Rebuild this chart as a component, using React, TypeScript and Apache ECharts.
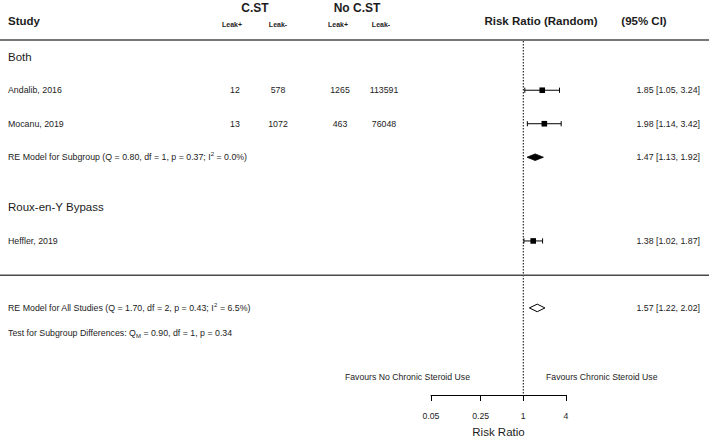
import React, { useEffect, useRef } from 'react';
import * as echarts from 'echarts';

// ---------- data ----------
const studyNames = ['Andalib, 2016', 'Mocanu, 2019', 'Heffler, 2019'];
const cstLeakPos = ['12', '13', ''];
const cstLeakNeg = ['578', '1072', ''];
const noCstLeakPos = ['1265', '463', ''];
const noCstLeakNeg = ['113591', '76048', ''];
const studyRR = [1.85, 1.98, 1.38];
const studyLower = [1.05, 1.14, 1.02];
const studyUpper = [3.24, 3.42, 1.87];

const groupNames = ['Both', 'Roux-en-Y Bypass'];
const subgroupLabel = 'RE Model for Subgroup (Q = 0.80, df = 1, p = 0.37; I{sup|2} = 0.0%)';
const subgroupRR = [1.47, 1.13, 1.92];
const overallLabel = 'RE Model for All Studies (Q = 1.70, df = 2, p = 0.43; I{sup|2} = 6.5%)';
const overallRR = [1.57, 1.22, 2.02];
const testLabel = 'Test for Subgroup Differences: Q{sub|M} = 0.90, df = 1, p = 0.34';

const tickValues = [0.05, 0.25, 1, 4];
const tickLabels = ['0.05', '0.25', '1', '4'];
const favoursLeft = 'Favours No Chronic Steroid Use';
const favoursRight = 'Favours Chronic Steroid Use';

// ---------- layout ----------
const ROW = { groupBoth: 1, studies: [3, 5, 12], subBoth: 7, groupRoux: 10, rule: 14.05, overall: 16, test: 17.5 };
const Y_MAX = 21.2;
const FONT = "'Liberation Sans', Arial, Helvetica, sans-serif";
const TEXT = '#1c1c1c';
const COL = { label: 8, c1: 235, c2: 278, c3: 340, c4: 384, ci: 700 };

const fmt = (v: number) => v.toFixed(2);
const ciText = (a: number[]) => `${fmt(a[0])} [${fmt(a[1])}, ${fmt(a[2])}]`;

type Row = {
  kind: 'heading' | 'study' | 'summary' | 'rule' | 'text';
  row: number;
  label?: string;
  counts?: string[];
  est?: number[];
  filled?: boolean;
};

const rows: Row[] = [
  { kind: 'heading', row: ROW.groupBoth, label: groupNames[0] },
  ...studyNames.slice(0, 2).map((n, i) => ({
    kind: 'study' as const, row: ROW.studies[i], label: n,
    counts: [cstLeakPos[i], cstLeakNeg[i], noCstLeakPos[i], noCstLeakNeg[i]],
    est: [studyRR[i], studyLower[i], studyUpper[i]],
  })),
  { kind: 'summary', row: ROW.subBoth, label: subgroupLabel, est: subgroupRR, filled: true },
  { kind: 'heading', row: ROW.groupRoux, label: groupNames[1] },
  {
    kind: 'study', row: ROW.studies[2], label: studyNames[2],
    counts: [cstLeakPos[2], cstLeakNeg[2], noCstLeakPos[2], noCstLeakNeg[2]],
    est: [studyRR[2], studyLower[2], studyUpper[2]],
  },
  { kind: 'rule', row: ROW.rule },
  { kind: 'summary', row: ROW.overall, label: overallLabel, est: overallRR, filled: false },
  { kind: 'text', row: ROW.test, label: testLabel },
];

const RICH = {
  sup: { fontSize: 6, fontFamily: FONT, fill: TEXT, color: TEXT, verticalAlign: 'top' },
  sub: { fontSize: 6, fontFamily: FONT, fill: TEXT, color: TEXT, verticalAlign: 'bottom' },
};

function txt(x: number, y: number, text: string, size: number, align: string, weight = 'normal', rich?: any) {
  const style: any = {
    text, fill: TEXT, fontSize: size, fontFamily: FONT, fontWeight: weight,
    align, verticalAlign: 'middle', textAlign: align, textVerticalAlign: 'middle',
  };
  if (rich) { style.rich = rich; style.lineHeight = 12; }
  return { type: 'text', x, y, silent: true, style };
}

function line(x1: number, y1: number, x2: number, y2: number, stroke = '#000', lineWidth = 1, lineDash?: number[]) {
  const style: any = { stroke, lineWidth };
  if (lineDash) style.lineDash = lineDash;
  return { type: 'line', silent: true, shape: { x1, y1, x2, y2 }, style };
}

export default function App() {
  const ref = useRef<HTMLDivElement>(null);

  useEffect(() => {
    if (!ref.current) return;
    const chart = echarts.init(ref.current, undefined, { renderer: 'svg' });
    const tickLn = tickValues.map((v) => Math.log(v));
    const labelFor = (v: number) => {
      let best = 0;
      tickLn.forEach((t, i) => { if (Math.abs(t - v) < Math.abs(tickLn[best] - v)) best = i; });
      return tickLabels[best];
    };

    const renderRow = (params: any, api: any) => {
      const r = rows[params.dataIndex];
      const y = api.coord([0, r.row])[1];
      const children: any[] = [];
      if (r.kind === 'heading') {
        children.push(txt(COL.label, y, r.label!, 11.5, 'left'));
      } else if (r.kind === 'study') {
        const [e, lo, hi] = r.est!;
        const xe = api.coord([Math.log(e), r.row])[0];
        const xl = api.coord([Math.log(lo), r.row])[0];
        const xh = api.coord([Math.log(hi), r.row])[0];
        children.push(line(xl, y, xh, y));
        children.push(line(xl, y - 2.6, xl, y + 2.6));
        children.push(line(xh, y - 2.6, xh, y + 2.6));
        children.push({ type: 'rect', silent: true, shape: { x: xe - 2.8, y: y - 2.8, width: 5.6, height: 5.6 }, style: { fill: '#000' } });
        children.push(txt(COL.label, y, r.label!, 8.8, 'left'));
        const cx = [COL.c1, COL.c2, COL.c3, COL.c4];
        r.counts!.forEach((c, i) => { if (c) children.push(txt(cx[i], y, c, 8.8, 'center')); });
        children.push(txt(COL.ci, y, ciText(r.est!), 8.8, 'right'));
      } else if (r.kind === 'summary') {
        const [e, lo, hi] = r.est!;
        const xe = api.coord([Math.log(e), r.row])[0];
        const xl = api.coord([Math.log(lo), r.row])[0];
        const xh = api.coord([Math.log(hi), r.row])[0];
        const h = r.filled ? 3.3 : 3.8;
        children.push({
          type: 'polygon', silent: true,
          shape: { points: [[xl, y], [xe, y - h], [xh, y], [xe, y + h]] },
          style: r.filled ? { fill: '#000', stroke: '#000', lineWidth: 0.8 } : { fill: '#fff', stroke: '#000', lineWidth: 1 },
        });
        children.push(txt(COL.label, y, r.label!, 8.8, 'left', 'normal', RICH));
        children.push(txt(COL.ci, y, ciText(r.est!), 8.8, 'right'));
      } else if (r.kind === 'rule') {
        children.push(line(0, y, 709, y, '#4a4a4a', 1.4));
      } else if (r.kind === 'text') {
        children.push(txt(COL.label, y, r.label!, 8.8, 'left', 'normal', RICH));
      }
      return { type: 'group', children };
    };

    const renderRef = (_p: any, api: any) => {
      const top = api.coord([0, 0]);
      const bottom = api.coord([0, Y_MAX]);
      return line(top[0], top[1] + 1, bottom[0], bottom[1], '#000', 1, [1.5, 1.5]);
    };

    chart.setOption({
      animation: false,
      backgroundColor: '#fff',
      grid: { left: 431, top: 40, width: 135, height: 355, containLabel: false, outerBoundsMode: 'none' },
      xAxis: {
        type: 'value',
        min: Math.log(tickValues[0]),
        max: Math.log(tickValues[tickValues.length - 1]),
        axisLine: { show: true, onZero: false, lineStyle: { color: '#000', width: 1 } },
        axisTick: { show: true, inside: false, length: 6, lineStyle: { color: '#000', width: 1 }, customValues: tickLn },
        axisLabel: {
          customValues: tickLn, formatter: (v: number) => labelFor(v),
          fontSize: 8.7, color: TEXT, fontFamily: FONT, margin: 16,
          showMinLabel: true, showMaxLabel: true,
        },
        splitLine: { show: false },
        name: 'Risk Ratio', nameLocation: 'middle', nameGap: 31,
        nameTextStyle: { fontSize: 11.5, color: TEXT, fontFamily: FONT },
      },
      yAxis: { type: 'value', min: 0, max: Y_MAX, inverse: true, show: false },
      series: [
        { type: 'custom', clip: false, silent: true, renderItem: renderRef, data: [[0, 0]] },
        {
          type: 'custom', clip: false, silent: true, renderItem: renderRow,
          encode: { x: 0, y: 1 },
          data: rows.map((r) => [r.est ? Math.log(r.est[0]) : 0, r.row]),
        },
      ],
      graphic: {
        elements: [
          txt(8, 21, 'Study', 11.5, 'left', 'bold'),
          txt(255, 8, 'C.ST', 12, 'center', 'bold'),
          txt(357, 8, 'No C.ST', 12, 'center', 'bold'),
          txt(232, 24, 'Leak+', 7, 'center', 'bold'),
          txt(278, 24, 'Leak-', 7, 'center', 'bold'),
          txt(338, 24, 'Leak+', 7, 'center', 'bold'),
          txt(381, 24, 'Leak-', 7, 'center', 'bold'),
          txt(541, 21, 'Risk Ratio (Random)', 11.5, 'center', 'bold'),
          txt(644, 21, '(95% CI)', 11.5, 'center', 'bold'),
          line(0, 40, 709, 40, '#4a4a4a', 1.4),
          txt(470, 377, favoursLeft, 8.7, 'right'),
          txt(546, 377, favoursRight, 8.7, 'left'),
        ],
      },
    });
    return () => chart.dispose();
  }, []);

  return <div ref={ref} style={{ position: 'absolute', left: 0, top: 0, width: 709, height: 440, background: '#fff' }} />;
}
